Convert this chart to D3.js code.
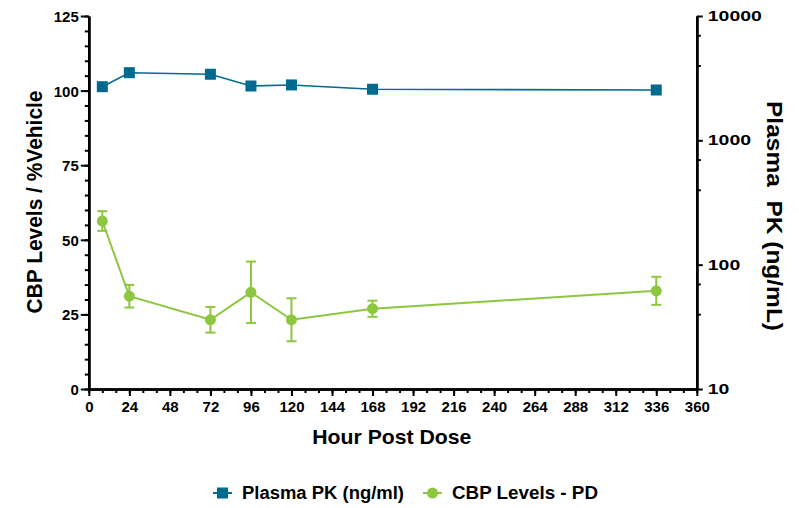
<!DOCTYPE html>
<html>
<head>
<meta charset="utf-8">
<script src="https://cdn.jsdelivr.net/npm/d3@7"></script>
<style>
  body { margin: 0; background: #fff; }
  svg { display: block; font-family: "Liberation Sans", Arial, sans-serif; }
  .axis path, .axis line { stroke: #000; }
  .axis path { stroke-width: 2.5; }
  .axis line { stroke-width: 2; }
  .axis text { font-weight: bold; font-size: 15px; fill: #000; }
</style>
</head>
<body>
<svg id="chart"></svg>
<script>
// data
const hours = [8, 24, 72, 96, 120, 168, 336];
const pkValues = [2700, 3500, 3400, 2735, 2790, 2575, 2540];     // ng/ml, right log axis
const pdValues = [56.3, 31.1, 23.2, 32.4, 23.2, 26.9, 32.9];     // %Vehicle, left axis
const pdErrors = [3.3, 3.8, 4.3, 10.3, 7.2, 2.7, 4.7];
const xTicks = d3.range(0, 361, 24);
const leftTicks = [0, 25, 50, 75, 100, 125];
const rightTicks = [10, 100, 1000, 10000];
const rightMinor = [40, 70, 400, 700, 4000, 7000];
const legendNames = ["Plasma PK (ng/ml)", "CBP Levels - PD"];

const blue = "#006a8f";
const green = "#8dc63f";

let width = 799, height = 508;
let plotLeft = 88.8, plotRight = 696.8, plotTop = 16, plotBottom = 389;

let svg = d3.select("#chart").attr("width", width).attr("height", height);

// scales
let x = d3.scaleLinear().domain([0, 360]).range([plotLeft, plotRight]);
let yL = d3.scaleLinear().domain([0, 125]).range([plotBottom, plotTop]);
let yR = d3.scaleLog().domain([10, 10000]).range([plotBottom, plotTop]);

// minor ticks first
svg.append("g").attr("class", "axis")
    .attr("transform", `translate(0, ${plotBottom})`)
    .call(d3.axisBottom(x).tickValues(d3.range(0, 361, 8)).tickSize(4).tickSizeOuter(0).tickFormat(""));
svg.append("g").attr("class", "axis")
    .attr("transform", `translate(${plotLeft}, 0)`)
    .call(d3.axisLeft(yL).tickValues(d3.range(0, 126, 5)).tickSize(4).tickSizeOuter(0).tickFormat(""));
svg.append("g").attr("class", "axis")
    .attr("transform", `translate(${plotRight}, 0)`)
    .call(d3.axisRight(yR).tickValues(rightMinor).tickSize(4).tickSizeOuter(0).tickFormat(""));

// major axes
svg.append("g").attr("class", "axis")
    .attr("transform", `translate(0, ${plotBottom})`)
    .call(d3.axisBottom(x).tickValues(xTicks).tickSize(7).tickSizeOuter(0).tickPadding(5).tickFormat(d3.format("d")));

svg.append("g").attr("class", "axis")
    .attr("transform", `translate(${plotLeft}, 0)`)
    .call(d3.axisLeft(yL).tickValues(leftTicks).tickSize(8).tickSizeOuter(0).tickPadding(2))
    .selectAll("text").attr("dy", "0.36em");

svg.append("g").attr("class", "axis")
    .attr("transform", `translate(${plotRight}, 0)`)
    .call(d3.axisRight(yR).tickValues(rightTicks).tickSize(6).tickSizeOuter(0).tickPadding(5).tickFormat(d3.format("d")))
    .selectAll("text")
    .attr("dy", "0.3em")
    .attr("textLength", d => String(d).length * 10.8)
    .attr("lengthAdjust", "spacingAndGlyphs");

// axis titles
svg.append("text")
    .attr("transform", "translate(42, 202) rotate(-90)")
    .attr("text-anchor", "middle")
    .attr("font-weight", "bold").attr("font-size", 22)
    .attr("textLength", 223).attr("lengthAdjust", "spacingAndGlyphs")
    .text("CBP Levels / %Vehicle");

svg.append("text")
    .attr("transform", "translate(767, 216) rotate(90)")
    .attr("text-anchor", "middle")
    .attr("font-weight", "bold").attr("font-size", 22)
    .attr("textLength", 230).attr("lengthAdjust", "spacingAndGlyphs")
    .style("white-space", "pre")
    .text("Plasma  PK (ng/mL)");

svg.append("text")
    .attr("x", (plotLeft + plotRight) / 2 - 1).attr("y", 444)
    .attr("text-anchor", "middle")
    .attr("font-weight", "bold").attr("font-size", 21)
    .attr("textLength", 159).attr("lengthAdjust", "spacingAndGlyphs")
    .text("Hour Post Dose");

// PK series (right axis)
let pk = hours.map((h, i) => ({h: h, v: pkValues[i]}));
svg.append("path")
    .datum(pk)
    .attr("fill", "none").attr("stroke", blue).attr("stroke-width", 1.6)
    .attr("d", d3.line().x(d => x(d.h)).y(d => yR(d.v)));
svg.selectAll(".pk")
    .data(pk).enter()
    .append("rect")
    .attr("x", d => x(d.h) - 5.5).attr("y", d => yR(d.v) - 5.5)
    .attr("width", 11).attr("height", 11)
    .attr("fill", blue);

// PD series (left axis) with error bars
let pd = hours.map((h, i) => ({h: h, v: pdValues[i], e: pdErrors[i]}));
let bars = svg.append("g").selectAll("g").data(pd).enter().append("g")
    .attr("stroke", green).attr("stroke-width", 2);
bars.append("line")
    .attr("x1", d => x(d.h)).attr("x2", d => x(d.h))
    .attr("y1", d => yL(d.v - d.e)).attr("y2", d => yL(d.v + d.e));
bars.append("line")
    .attr("x1", d => x(d.h) - 5).attr("x2", d => x(d.h) + 5)
    .attr("y1", d => yL(d.v + d.e)).attr("y2", d => yL(d.v + d.e));
bars.append("line")
    .attr("x1", d => x(d.h) - 5).attr("x2", d => x(d.h) + 5)
    .attr("y1", d => yL(d.v - d.e)).attr("y2", d => yL(d.v - d.e));

svg.append("path")
    .datum(pd)
    .attr("fill", "none").attr("stroke", green).attr("stroke-width", 2)
    .attr("d", d3.line().x(d => x(d.h)).y(d => yL(d.v)));
svg.selectAll(".pd")
    .data(pd).enter()
    .append("circle")
    .attr("cx", d => x(d.h)).attr("cy", d => yL(d.v))
    .attr("r", 5.5)
    .attr("fill", green);

// legend
let lg = svg.append("g");
lg.append("line").attr("x1", 213).attr("x2", 232).attr("y1", 493).attr("y2", 493)
    .attr("stroke", blue).attr("stroke-width", 2);
lg.append("rect").attr("x", 217).attr("y", 487.5).attr("width", 11).attr("height", 11).attr("fill", blue);
lg.append("text").attr("x", 242).attr("y", 499)
    .attr("font-weight", "bold").attr("font-size", 18)
    .attr("textLength", 162).attr("lengthAdjust", "spacingAndGlyphs")
    .text(legendNames[0]);

lg.append("line").attr("x1", 423).attr("x2", 442).attr("y1", 493).attr("y2", 493)
    .attr("stroke", green).attr("stroke-width", 2);
lg.append("circle").attr("cx", 432.5).attr("cy", 493).attr("r", 5.5).attr("fill", green);
lg.append("text").attr("x", 452).attr("y", 499)
    .attr("font-weight", "bold").attr("font-size", 18)
    .attr("textLength", 146).attr("lengthAdjust", "spacingAndGlyphs")
    .text(legendNames[1]);
</script>
</body>
</html>
